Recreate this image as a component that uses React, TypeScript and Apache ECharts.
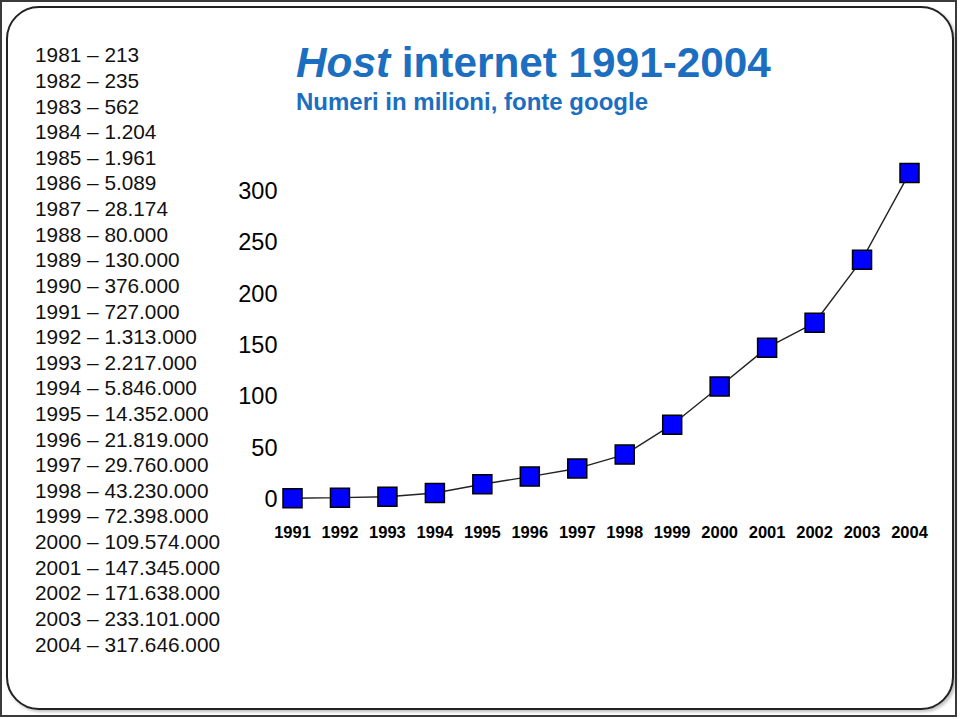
import React, { useEffect, useRef } from "react";
import * as echarts from "echarts";

const listYears = [
  "1981", "1982", "1983", "1984", "1985", "1986", "1987", "1988", "1989", "1990",
  "1991", "1992", "1993", "1994", "1995", "1996", "1997", "1998", "1999", "2000",
  "2001", "2002", "2003", "2004",
];
const listValues = [
  "213", "235", "562", "1.204", "1.961", "5.089", "28.174", "80.000", "130.000", "376.000",
  "727.000", "1.313.000", "2.217.000", "5.846.000", "14.352.000", "21.819.000", "29.760.000",
  "43.230.000", "72.398.000", "109.574.000", "147.345.000", "171.638.000", "233.101.000",
  "317.646.000",
];
const chartYears = [
  "1991", "1992", "1993", "1994", "1995", "1996", "1997", "1998", "1999", "2000",
  "2001", "2002", "2003", "2004",
];
const hostsMillions = [
  0.727, 1.313, 2.217, 5.846, 14.352, 21.819, 29.76, 43.23, 72.398, 109.574,
  147.345, 171.638, 233.101, 317.646,
];
const titleMain = "Host";
const titleRest = " internet 1991-2004";
const subtitle = "Numeri in milioni, fonte google";

const BLUE = "#1c6ec0";

export default function App() {
  const ref = useRef<HTMLDivElement>(null);
  useEffect(() => {
    document.body.style.margin = "0";
    const chart = echarts.init(ref.current!, null, { renderer: "svg" });
    const listText = listYears.map((y, i) => `${y} – ${listValues[i]}`).join("\n");
    chart.setOption({
      animation: false,
      backgroundColor: "#ffffff",
      title: {
        text: `{a|${titleMain}}{b|${titleRest}}`,
        subtext: subtitle,
        left: 296,
        top: 41.5,
        padding: 0,
        itemGap: 5.5,
        textStyle: {
          rich: {
            a: {
              fontFamily: "Liberation Sans",
              fontSize: 42.3,
              fontWeight: "bold",
              fontStyle: "italic",
              color: BLUE,
              lineHeight: 42,
            },
            b: {
              fontFamily: "Liberation Sans",
              fontSize: 42.3,
              fontWeight: "bold",
              color: BLUE,
              lineHeight: 42,
            },
          },
        },
        subtextStyle: {
          fontFamily: "Liberation Sans",
          fontSize: 24,
          fontWeight: "bold",
          color: BLUE,
          lineHeight: 24,
        },
      },
      graphic: [
        {
          type: "rect",
          silent: true,
          z: -10,
          shape: { x: 1, y: 1, width: 955, height: 715 },
          style: { fill: "none", stroke: "#3a3a3a", lineWidth: 2 },
        },
        {
          type: "rect",
          silent: true,
          z: -9,
          shape: { x: 7, y: 7, width: 946, height: 702, r: 32 },
          style: {
            fill: "#ffffff",
            stroke: "#222222",
            lineWidth: 2,
            shadowColor: "rgba(0,0,0,0.25)",
            shadowBlur: 3,
            shadowOffsetX: 2,
            shadowOffsetY: 2,
          },
        },
        {
          type: "text",
          silent: true,
          x: 35,
          y: 42,
          style: {
            text: listText,
            fontFamily: "Liberation Sans",
            fontSize: 20.8,
            lineHeight: 25.62,
            fill: "#111111",
            verticalAlign: "top",
            align: "left",
          },
        },
      ],
      grid: { left: 292.5, right: 50.5, top: 191, bottom: 220, containLabel: false },
      xAxis: {
        type: "category",
        data: chartYears,
        boundaryGap: false,
        axisLine: { show: false },
        axisTick: { show: false },
        splitLine: { show: false },
        axisLabel: {
          interval: 0,
          margin: 25,
          fontFamily: "Liberation Sans",
          fontSize: 16.5,
          fontWeight: "bold",
          lineHeight: 16,
          color: "#000000",
        },
      },
      yAxis: {
        type: "value",
        min: 0,
        max: 300,
        interval: 50,
        axisLine: { show: false },
        axisTick: { show: false },
        splitLine: { show: false },
        axisLabel: {
          margin: 15,
          fontFamily: "Liberation Sans",
          fontSize: 23.5,
          color: "#000000",
        },
      },
      series: [
        {
          type: "line",
          data: hostsMillions,
          clip: false,
          symbol: "rect",
          symbolSize: 19,
          lineStyle: { color: "#222222", width: 1.4 },
          itemStyle: { color: "#0000ff", borderColor: "#000000", borderWidth: 1.5 },
        },
      ],
    });
    return () => chart.dispose();
  }, []);
  return <div ref={ref} style={{ width: 960, height: 719 }} />;
}
